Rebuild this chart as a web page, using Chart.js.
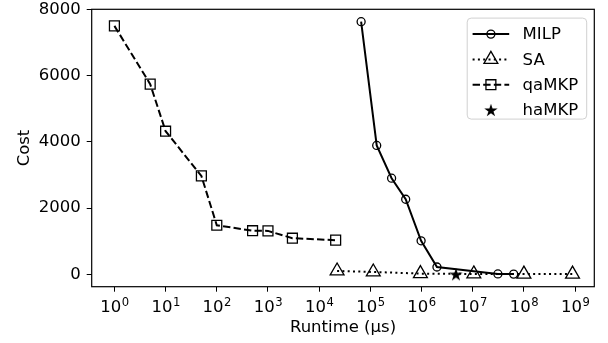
<!DOCTYPE html>
<html><head><meta charset="utf-8">
<script src="https://cdn.jsdelivr.net/npm/chart.js@4.4.1/dist/chart.umd.min.js"></script>
<style>html,body{margin:0;padding:0;background:#fff;} canvas{display:block;}</style>
</head><body>
<canvas id="c" width="608" height="343" style="width:608px;height:343px"></canvas>
<script>
// ---- data ----
const seriesNames = ['MILP', 'SA', 'qaMKP', 'haMKP'];
const milpX = [6.6e4, 1.33e5, 2.6e5, 4.9e5, 9.8e5, 2.0e6, 3.1e7, 6.3e7];
const milpY = [7625, 3890, 2900, 2265, 1010, 220, 10, 5];
const saX = [2.24e4, 1.14e5, 9.5e5, 1.05e7, 1.0e8, 8.9e8];
const saY = [100, 70, 20, 10, 5, 5];
const qaX = [1, 5, 10, 50, 100, 500, 1000, 3000, 21000];
const qaY = [7500, 5740, 4320, 2970, 1480, 1315, 1310, 1090, 1030];
const haX = [4.7e6];
const haY = [0];
const xTickExponents = [0, 1, 2, 3, 4, 5, 6, 7, 8, 9];
const yTickValues = [0, 2000, 4000, 6000, 8000];
const xTitle = 'Runtime (μs)';
const yTitle = 'Cost';

function pts(xs, ys) { return xs.map((x, i) => ({ x: x, y: ys[i] })); }

// star marker image
function makeStar(R) {
  const s = Math.ceil(R * 2 + 2);
  const cv = document.createElement('canvas');
  cv.width = s; cv.height = s;
  const c = cv.getContext('2d');
  const cx = s / 2, cy = s / 2 + R * 0.1;
  const r = R * 0.382;
  c.beginPath();
  for (let i = 0; i < 10; i++) {
    const rad = i % 2 === 0 ? R : r;
    const a = -Math.PI / 2 + i * Math.PI / 5;
    const px = cx + rad * Math.cos(a), py = cy + rad * Math.sin(a);
    if (i === 0) c.moveTo(px, py); else c.lineTo(px, py);
  }
  c.closePath();
  c.fillStyle = '#000';
  c.fill();
  return cv;
}
const starImg = makeStar(7);

const DOT = [2, 3.3];
const DASH = [7.4, 3.2];
const MW = 1.3;
const FONT = "'DejaVu Sans', sans-serif";
const FS = 16.5;
const FS_SUP = 11.6;

Chart.defaults.font.family = FONT;
Chart.defaults.font.size = FS;
Chart.defaults.color = '#000';

function drawMarker(ctx, kind, x, y) {
  ctx.save();
  ctx.setLineDash([]);
  ctx.strokeStyle = '#000';
  ctx.lineWidth = MW;
  ctx.beginPath();
  if (kind === 'circle') {
    ctx.arc(x, y, 4, 0, Math.PI * 2);
    ctx.stroke();
  } else if (kind === 'rect') {
    const h = 7 * Math.SQRT1_2;
    ctx.rect(x - h, y - h, 2 * h, 2 * h);
    ctx.stroke();
  } else if (kind === 'triangle') {
    const r = 8;
    ctx.moveTo(x, y - r);
    ctx.lineTo(x + r * Math.sin(2 * Math.PI / 3), y - r * Math.cos(2 * Math.PI / 3));
    ctx.lineTo(x + r * Math.sin(4 * Math.PI / 3), y - r * Math.cos(4 * Math.PI / 3));
    ctx.closePath();
    ctx.stroke();
  } else if (kind === 'star') {
    ctx.drawImage(starImg, x - starImg.width / 2, y - starImg.height / 2);
  }
  ctx.restore();
}

const framePlugin = {
  id: 'frame',
  afterDatasetsDraw(chart) {
    const a = chart.chartArea, ctx = chart.ctx;
    ctx.save();
    ctx.strokeStyle = '#000';
    ctx.lineWidth = 1.2;
    ctx.setLineDash([]);
    ctx.strokeRect(a.left, a.top, a.right - a.left, a.bottom - a.top);
    ctx.restore();
  }
};

// x tick labels as 10 with a raised exponent (matplotlib-style)
const powerLabelPlugin = {
  id: 'powerLabels',
  afterDraw(chart) {
    const sc = chart.scales.x, ctx = chart.ctx;
    const baseY = chart.chartArea.bottom + 24.8;
    ctx.save();
    ctx.fillStyle = '#000';
    ctx.textBaseline = 'alphabetic';
    ctx.textAlign = 'left';
    xTickExponents.forEach(e => {
      const x = sc.getPixelForValue(Math.pow(10, e));
      ctx.font = FS + 'px ' + FONT;
      const w1 = ctx.measureText('10').width;
      ctx.font = FS_SUP + 'px ' + FONT;
      const w2 = ctx.measureText(String(e)).width;
      const x0 = x - (w1 + w2) / 2;
      ctx.font = FS + 'px ' + FONT;
      ctx.fillText('10', x0, baseY);
      ctx.font = FS_SUP + 'px ' + FONT;
      ctx.fillText(String(e), x0 + w1 + 0.5, baseY - 5.8);
    });
    ctx.restore();
  }
};

const legendPlugin = {
  id: 'mplLegend',
  afterDraw(chart) {
    const a = chart.chartArea, ctx = chart.ctx;
    const bw = 119.5, bh = 101;
    const bx = a.right - 7.6 - bw, by = a.top + 8.8;
    ctx.save();
    ctx.beginPath();
    ctx.roundRect(bx, by, bw, bh, 4);
    ctx.fillStyle = 'rgba(255,255,255,0.8)';
    ctx.fill();
    ctx.strokeStyle = '#d0d0d0';
    ctx.lineWidth = 1;
    ctx.stroke();
    const specs = [
      { dash: [], line: true, marker: 'circle' },
      { dash: DOT, line: true, marker: 'triangle' },
      { dash: DASH, line: true, marker: 'rect' },
      { dash: [], line: false, marker: 'star' }
    ];
    specs.forEach((s, i) => {
      const y = by + 16 + i * 25.3;
      const x0 = bx + 5.4, x1 = bx + 42, xm = bx + 23.7;
      if (s.line) {
        ctx.beginPath();
        ctx.setLineDash(s.dash);
        ctx.strokeStyle = '#000';
        ctx.lineWidth = 2;
        ctx.moveTo(x0, y); ctx.lineTo(x1, y);
        ctx.stroke();
      }
      drawMarker(ctx, s.marker, xm, y);
      ctx.setLineDash([]);
      ctx.fillStyle = '#000';
      ctx.font = FS + 'px ' + FONT;
      ctx.textAlign = 'left';
      ctx.textBaseline = 'middle';
      ctx.fillText(seriesNames[i], bx + 55.4, y + 1);
    });
    ctx.restore();
  }
};

const common = {
  borderColor: '#000',
  borderWidth: 2,
  pointBorderColor: '#000',
  pointBackgroundColor: 'rgba(0,0,0,0)',
  pointBorderWidth: MW,
  showLine: true,
  tension: 0
};

new Chart(document.getElementById('c'), {
  type: 'scatter',
  data: {
    datasets: [
      Object.assign({}, common, { label: seriesNames[0], data: pts(milpX, milpY), pointStyle: 'circle', pointRadius: 4, order: 3 }),
      Object.assign({}, common, { label: seriesNames[1], data: pts(saX, saY), pointStyle: 'triangle', pointRadius: 8, borderDash: DOT, order: 2 }),
      Object.assign({}, common, { label: seriesNames[2], data: pts(qaX, qaY), pointStyle: 'rect', pointRadius: 7, borderDash: DASH, order: 1 }),
      Object.assign({}, common, { label: seriesNames[3], data: pts(haX, haY), pointStyle: starImg, pointRadius: 7, showLine: false, order: 0 })
    ]
  },
  options: {
    responsive: false,
    animation: false,
    devicePixelRatio: 1,
    layout: { padding: { top: 8.5, right: 13.7, left: 0, bottom: 0 } },
    plugins: { legend: { display: false }, tooltip: { enabled: false } },
    scales: {
      x: {
        type: 'logarithmic',
        min: 0.36,
        max: 2.37e9,
        border: { display: false },
        grid: { display: true, drawOnChartArea: false, drawTicks: true, tickLength: 5, color: '#000', lineWidth: 1 },
        ticks: { display: false, autoSkip: false, maxRotation: 0 },
        afterBuildTicks: (s) => { s.ticks = xTickExponents.map(e => ({ value: Math.pow(10, e) })); },
        afterFit: (s) => { s.height = 56.3; s.paddingLeft = 0; s.paddingRight = 0; },
        title: { display: true, text: xTitle, color: '#000', font: { size: FS }, padding: { top: 0, bottom: 5.6 } }
      },
      y: {
        type: 'linear',
        min: -375,
        max: 8000,
        border: { display: false },
        grid: { display: true, drawOnChartArea: false, drawTicks: true, tickLength: 5, color: '#000', lineWidth: 1 },
        ticks: { padding: 6, color: '#000', font: { size: FS }, callback: (v) => String(v) },
        afterBuildTicks: (s) => { s.ticks = yTickValues.map(v => ({ value: v })); },
        afterFit: (s) => { s.width = 91.7; s.paddingTop = 0; s.paddingBottom = 0; },
        title: { display: true, text: yTitle, color: '#000', font: { size: FS }, padding: { top: 15.1, bottom: 0 } }
      }
    }
  },
  plugins: [framePlugin, powerLabelPlugin, legendPlugin]
});
</script>
</body></html>
